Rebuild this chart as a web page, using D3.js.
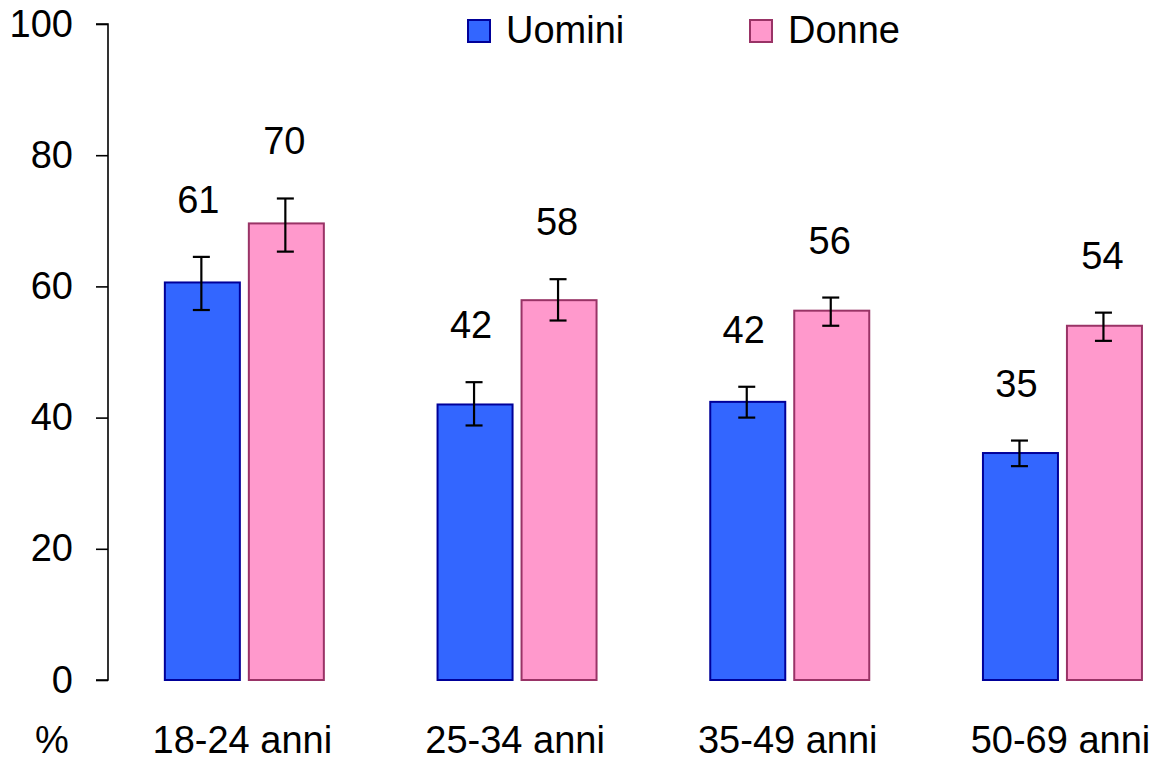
<!DOCTYPE html>
<html>
<head>
<meta charset="utf-8">
<script src="https://cdn.jsdelivr.net/npm/d3@7"></script>
<style>
  html, body { margin: 0; padding: 0; background: #fff; }
  text { font-family: "Liberation Sans", Arial, sans-serif; fill: #000; }
</style>
</head>
<body>
<svg id="chart" width="1163" height="763"></svg>
<script>
// ---- data ----
const categories = ["18-24 anni", "25-34 anni", "35-49 anni", "50-69 anni"];
const series = ["Uomini", "Donne"];
const uomini = [60.6, 42.0, 42.4, 34.6];
const donne = [69.6, 57.9, 56.3, 54.0];
const uominiLow = [56.4, 38.8, 40.0, 32.6];
const uominiHigh = [64.5, 45.4, 44.7, 36.5];
const donneLow = [65.3, 54.8, 54.0, 51.7];
const donneHigh = [73.4, 61.1, 58.3, 56.0];
const uominiLabels = ["61", "42", "42", "35"];
const donneLabels = ["70", "58", "56", "54"];
const yTicks = [0, 20, 40, 60, 80, 100];
const unitLabel = "%";

const colors = { Uomini: { fill: "#3366FF", stroke: "#000099" },
                 Donne:  { fill: "#FF99CC", stroke: "#993366" } };

const rows = [];
categories.forEach((c, i) => {
  rows.push({ cat: c, s: "Uomini", v: uomini[i], lo: uominiLow[i], hi: uominiHigh[i], lab: uominiLabels[i] });
  rows.push({ cat: c, s: "Donne", v: donne[i], lo: donneLow[i], hi: donneHigh[i], lab: donneLabels[i] });
});

const svg = d3.select("#chart");
const axisX = 108;
const y = d3.scaleLinear().domain([0, 100]).range([680, 24]);
const x0 = d3.scaleBand().domain(categories).range([axisX, axisX + 4 * 272.7]).padding(0);
const groupW = 159;
const x1 = d3.scaleBand().domain(series).range([0, groupW]).paddingInner(0.107).paddingOuter(0);
const gx = c => x0(c) + x0.bandwidth() / 2 - groupW / 2;

const fontSize = 38;

// y axis
const yAxis = d3.axisLeft(y).tickValues(yTicks).tickSize(12).tickPadding(23).tickFormat(d3.format("d"));
const ya = svg.append("g").attr("transform", `translate(${axisX},0)`).call(yAxis);
ya.select(".domain").attr("stroke", "#000").attr("stroke-width", 1.6).attr("d", `M-12,${y(100)}H0V${y(0)}H-12`);
ya.selectAll(".tick line").attr("stroke", "#000").attr("stroke-width", 1.6);
ya.selectAll(".tick text").attr("font-size", fontSize).attr("font-family", "Liberation Sans, Arial, sans-serif").attr("fill", "#000");

// bars
svg.append("g").selectAll("rect").data(rows).join("rect")
  .attr("x", d => gx(d.cat) + x1(d.s))
  .attr("y", d => y(d.v))
  .attr("width", x1.bandwidth())
  .attr("height", d => y(0) - y(d.v))
  .attr("fill", d => colors[d.s].fill)
  .attr("stroke", d => colors[d.s].stroke)
  .attr("stroke-width", 2);

// error bars
const eb = svg.append("g").attr("stroke", "#000").attr("stroke-width", 2.2);
rows.forEach(d => {
  const cx = gx(d.cat) + x1(d.s) + x1.bandwidth() / 2 - 1;
  eb.append("line").attr("x1", cx).attr("x2", cx).attr("y1", y(d.hi)).attr("y2", y(d.lo));
  eb.append("line").attr("x1", cx - 8.5).attr("x2", cx + 8.5).attr("y1", y(d.hi)).attr("y2", y(d.hi));
  eb.append("line").attr("x1", cx - 8.5).attr("x2", cx + 8.5).attr("y1", y(d.lo)).attr("y2", y(d.lo));
});

// value labels
svg.append("g").selectAll("text").data(rows).join("text")
  .attr("x", d => gx(d.cat) + x1(d.s) + x1.bandwidth() / 2 - (d.s === "Uomini" ? 4 : 2))
  .attr("y", d => y(d.hi) - 44)
  .attr("text-anchor", "middle")
  .attr("font-size", fontSize)
  .text(d => d.lab);

// category labels
svg.append("g").selectAll("text").data(categories).join("text")
  .attr("x", c => x0(c) + x0.bandwidth() / 2 - 2)
  .attr("y", 753)
  .attr("text-anchor", "middle")
  .attr("font-size", fontSize)
  .text(c => c);

svg.append("text").attr("x", 52).attr("y", 753).attr("text-anchor", "middle")
  .attr("font-size", fontSize).text(unitLabel);

// legend
const legendX = [468, 750];
series.forEach((s, i) => {
  svg.append("rect").attr("x", legendX[i]).attr("y", 20).attr("width", 22).attr("height", 22)
    .attr("fill", colors[s].fill).attr("stroke", colors[s].stroke).attr("stroke-width", 2);
  svg.append("text").attr("x", legendX[i] + 38).attr("y", 43).attr("font-size", fontSize).text(s);
});
</script>
</body>
</html>
